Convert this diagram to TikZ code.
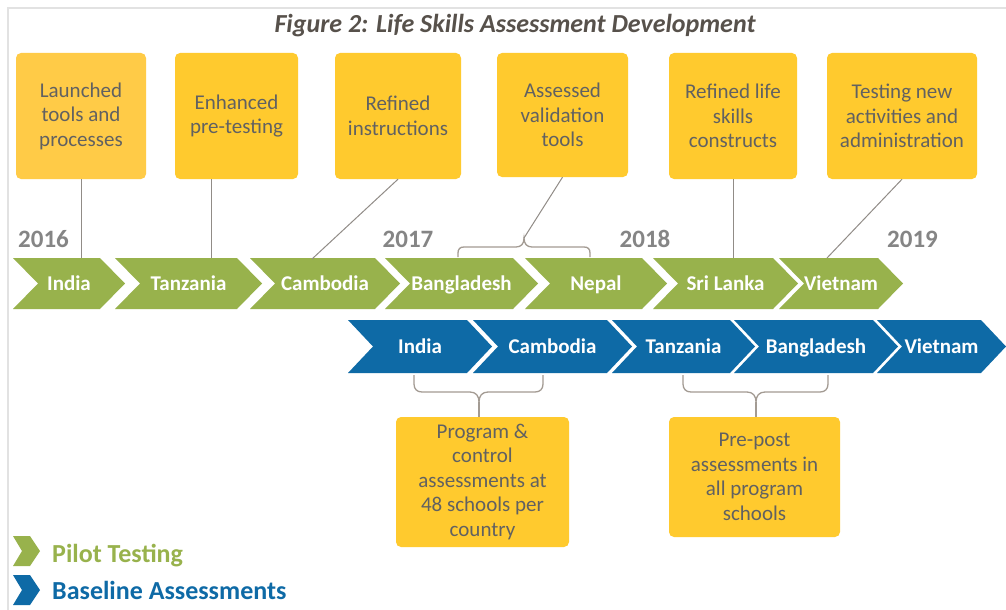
\documentclass[tikz,border=0pt]{standalone}
\usepackage{fontspec}
\setmainfont{Carlito}

\definecolor{pilot}{HTML}{98B24C}
\definecolor{base}{HTML}{0E6AA6}
\definecolor{note}{HTML}{FFCA2E}
\definecolor{notelight}{HTML}{FFCB47}
\definecolor{notetext}{HTML}{616161}
\definecolor{yeartext}{HTML}{858585}
\definecolor{titletext}{HTML}{57514B}
\definecolor{linkline}{HTML}{918C87}
\definecolor{braceline}{HTML}{A39B93}
\definecolor{frameline}{HTML}{E2E2E2}

% #1 name, #2 left x, #3 right x of the flat top, #4 top y, #5 bottom y,
% #6 fill colour, #7 baseline of the label, #8 label
\newcommand\chevronstep[8]{%
  \fill[#6] (#2,#4) -- (#3,#4) -- ({#3+25},{(#4+#5)/2}) -- (#3,#5) -- (#2,#5)
    -- ({#2+25},{(#4+#5)/2}) -- cycle;
  \node[chevlabel] (#1) at ({(#2+#3+25)/2},#7) {#8};
}

\begin{document}
\begin{tikzpicture}[x=1pt,y=-1pt,
  chevlabel/.style={anchor=base, inner sep=0pt, text=white,
    font=\fontsize{21}{24}\selectfont\bfseries},
  notebox/.style={rectangle, rounded corners=5pt, fill=note, text=notetext,
    align=center, inner sep=0pt, font=\fontsize{21}{24.5}\selectfont},
  yearlabel/.style={anchor=base, inner sep=0pt, text=yeartext,
    font=\fontsize{25}{28}\selectfont\bfseries},
  link/.style={draw=linkline, line width=1pt},
  bracket/.style={draw=braceline, line width=1.3pt},
  legendtext/.style={anchor=base west, inner sep=0pt,
    font=\fontsize{26}{30}\selectfont\bfseries}]

\useasboundingbox (0,0) rectangle (1006,610);
\fill[white] (0,0) rectangle (1006,610);

% frame
\draw[frameline, line width=2.5pt] (8,610) -- (8,8) -- (1006,8);

% title
\node[anchor=base, inner sep=0pt, text=titletext,
  font=\fontsize{26}{30}\selectfont\bfseries\itshape] (title) at (515,33)
  {Figure 2: Life Skills Assessment Development};

% notes above the pilot row
\node[notebox, fill=notelight, minimum width=130pt, minimum height=126pt] (n1) at (81,116)
  {Launched\\tools and\\processes};
\node[notebox, minimum width=123pt, minimum height=126pt] (n2) at (236.5,116)
  {Enhanced\\pre-testing};
\node[notebox, minimum width=126pt, minimum height=126pt] (n3) at (398,116)
  {Refined\\instructions};
\node[notebox, minimum width=131pt, minimum height=124pt] (n4) at (562.5,115)
  {Assessed\\validation\\tools};
\node[notebox, minimum width=128pt, minimum height=126pt] (n5) at (733,116)
  {Refined life\\skills\\constructs};
\node[notebox, minimum width=150pt, minimum height=126pt] (n6) at (902,116)
  {Testing new\\activities and\\administration};

% years
\node[yearlabel] (y16) at (43.5,247) {2016};
\node[yearlabel] (y17) at (408,247) {2017};
\node[yearlabel] (y18) at (645,247) {2018};
\node[yearlabel] (y19) at (912.5,247) {2019};

% pilot testing row
\chevronstep{gIndia}{13}{100}{258}{309}{pilot}{290}{India}
\chevronstep{gTanzania}{115}{237}{258}{309}{pilot}{290}{Tanzania}
\chevronstep{gCambodia}{250}{375}{258}{309}{pilot}{290}{Cambodia}
\chevronstep{gBangladesh}{385}{513}{258}{309}{pilot}{290}{Bangladesh}
\chevronstep{gNepal}{525}{642}{258}{309}{pilot}{290}{Nepal}
\chevronstep{gSriLanka}{653}{773}{258}{309}{pilot}{290}{Sri Lanka}
\chevronstep{gVietnam}{779}{878}{258}{309}{pilot}{290}{Vietnam}

% baseline assessment row
\chevronstep{bIndia}{348}{467}{320}{373}{base}{353}{India}
\chevronstep{bCambodia}{473}{607}{320}{373}{base}{353}{Cambodia}
\chevronstep{bTanzania}{612}{730}{320}{373}{base}{353}{Tanzania}
\chevronstep{bBangladesh}{734}{873}{320}{373}{base}{353}{Bangladesh}
\chevronstep{bVietnam}{877}{981}{320}{373}{base}{353}{Vietnam}

% attachment points on the pilot row
\coordinate (pIndia) at (81,258);
\coordinate (pTanzania) at (211,258);
\coordinate (pCambodia) at (312,259);
\coordinate (pSriLanka) at (733,258);
\coordinate (pVietnam) at (827,258);
\coordinate (tipA) at (524,238);
\coordinate (tipB) at (479,402);
\coordinate (tipC) at (756,402);

% brace over Bangladesh and Nepal
\draw[bracket] (458,257) -- (458,253) .. controls (458,249) and (460,247) .. (464,247)
  -- (516,247) .. controls (521,247) and (524,244) .. (tipA)
  .. controls (524,244) and (527,247) .. (532,247) -- (584,247)
  .. controls (588,247) and (590,249) .. (590,253) -- (590,257);

% braces under the baseline row
\draw[bracket] (414,375) -- (414,384) .. controls (414,389) and (417,392) .. (422,392)
  -- (470,392) .. controls (476,392) and (479,396) .. (tipB)
  .. controls (479,396) and (482,392) .. (488,392) -- (535,392)
  .. controls (540,392) and (543,389) .. (543,384) -- (543,375);
\draw[bracket] (683,375) -- (683,384) .. controls (683,389) and (686,392) .. (691,392)
  -- (747,392) .. controls (753,392) and (756,396) .. (tipC)
  .. controls (756,396) and (759,392) .. (765,392) -- (820,392)
  .. controls (825,392) and (828,389) .. (828,384) -- (828,375);

% notes below the baseline row
\node[notebox, minimum width=173pt, minimum height=130pt] (m1) at (482.5,482)
  {Program \&\\control\\assessments at\\48 schools per\\country};
\node[notebox, minimum width=171pt, minimum height=120pt] (m2) at (754.5,477)
  {Pre-post\\assessments in\\all program\\schools};

% connectors
\draw[link] (n1.south) -- (pIndia);
\draw[link] (n2.south -| pTanzania) -- (pTanzania);
\draw[link] (n3.south) -- (pCambodia);
\draw[link] (n4.south) -- (tipA);
\draw[link] (n5.south) -- (pSriLanka);
\draw[link] (n6.south) -- (pVietnam);
\draw[bracket] (tipB) -- (tipB |- m1.north);
\draw[bracket] (tipC) -- (tipC |- m2.north);

% legend
\fill[pilot] (13,536) -- (30,536) -- (40,551) -- (30,566) -- (13,566) -- (22,551) -- cycle;
\fill[base] (13,575) -- (30,575) -- (40,590) -- (30,605) -- (13,605) -- (22,590) -- cycle;
\node[legendtext, text=pilot] (legPilot) at (52,562) {Pilot Testing};
\node[legendtext, text=base] (legBase) at (52,599) {Baseline Assessments};

\end{tikzpicture}
\end{document}
